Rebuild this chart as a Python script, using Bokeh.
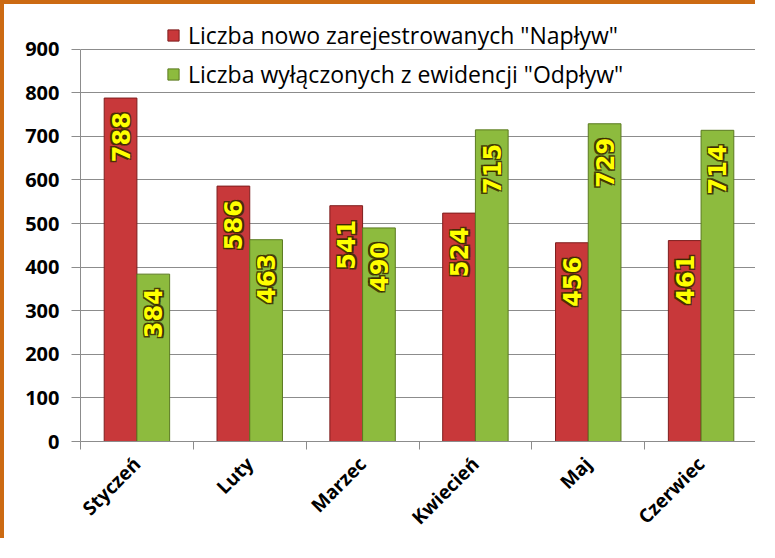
from bokeh.plotting import figure
from bokeh.models import Range1d, FixedTicker, ColumnDataSource
from bokeh.core.properties import value
from bokeh.embed import file_html
from bokeh.resources import INLINE
from math import pi

# ---- data ----
months = ["Styczeń", "Luty", "Marzec", "Kwiecień", "Maj", "Czerwiec"]
naplyw = [788, 586, 541, 524, 456, 461]
odplyw = [384, 463, 490, 715, 729, 714]
series_names = ['Liczba nowo zarejestrowanych "Napływ"',
                'Liczba wyłączonych z ewidencji "Odpływ"']
y_ticks = [0, 100, 200, 300, 400, 500, 600, 700, 800, 900]

BAR_W = 0.29
centers = [i + 0.5 for i in range(len(months))]

src_n = ColumnDataSource(dict(x=[c - BAR_W / 2 for c in centers], top=naplyw,
                              lbl=[str(v) for v in naplyw]))
src_o = ColumnDataSource(dict(x=[c + BAR_W / 2 for c in centers], top=odplyw,
                              lbl=[str(v) for v in odplyw]))

p = figure(width=755, height=538, output_backend="svg", toolbar_location=None,
           x_range=Range1d(0, len(months)), y_range=Range1d(0, 982),
           min_border_left=76, min_border_right=2, min_border_top=9,
           min_border_bottom=100)
p.styles = {"border-top": "4px solid #CC6A12", "border-left": "4px solid #CC6A12"}
p.outline_line_color = None
p.background_fill_color = "white"
p.border_fill_color = "white"

p.vbar(x="x", top="top", width=BAR_W, source=src_n, fill_color="#C8383A",
       line_color="#7E1E1E", line_width=1, legend_label=series_names[0])
p.vbar(x="x", top="top", width=BAR_W, source=src_o, fill_color="#8DBB3E",
       line_color="#5B7A20", line_width=1, legend_label=series_names[1])

# dark halo behind the yellow value labels
halo = [(-1.5, -1.5), (1.5, -1.5), (-1.5, 1.5), (1.5, 1.5)]
for src in (src_n, src_o):
    for dx, dy in halo:
        p.text(x="x", y="top", text="lbl", source=src, angle=pi / 2,
               text_align="right", text_baseline="middle",
               x_offset=dx, y_offset=14 + dy,
               text_font=value("DejaVu Sans"), text_font_style="bold",
               text_font_size="24px", text_color="#3A2A00", text_alpha=0.85)
    p.text(x="x", y="top", text="lbl", source=src, angle=pi / 2,
           text_align="right", text_baseline="middle", y_offset=14,
           text_font=value("DejaVu Sans"), text_font_style="bold",
           text_font_size="24px", text_color="#FFFF00")

# y axis
p.yaxis.ticker = FixedTicker(ticks=y_ticks)
p.yaxis.bounds = (y_ticks[0], y_ticks[-1])
p.yaxis.major_tick_out = 9
p.yaxis.major_tick_in = 0
p.yaxis.minor_tick_line_color = None
p.yaxis.axis_line_color = "#8C8C8C"
p.yaxis.major_tick_line_color = "#8C8C8C"
p.yaxis.major_label_standoff = 12
p.yaxis.major_label_text_font = "Open Sans"
p.yaxis.major_label_text_font_style = "bold"
p.yaxis.major_label_text_font_size = "20px"
p.yaxis.major_label_text_color = "black"

# x axis: labels at centres, ticks at category boundaries
p.xaxis.ticker = FixedTicker(ticks=centers, minor_ticks=list(range(len(months) + 1)))
p.xaxis.major_label_overrides = {c: m for c, m in zip(centers, months)}
p.xaxis.major_tick_line_color = None
p.xaxis.major_tick_out = 0
p.xaxis.major_tick_in = 0
p.xaxis.minor_tick_out = 8
p.xaxis.minor_tick_in = 0
p.xaxis.minor_tick_line_color = "#8C8C8C"
p.xaxis.axis_line_color = "#8C8C8C"
p.xaxis.major_label_orientation = pi / 4
p.xaxis.major_label_standoff = 11
p.xaxis.major_label_text_font = "Open Sans"
p.xaxis.major_label_text_font_style = "bold"
p.xaxis.major_label_text_font_size = "19px"
p.xaxis.major_label_text_color = "black"

p.xgrid.grid_line_color = None
p.ygrid.ticker = FixedTicker(ticks=y_ticks)
p.ygrid.grid_line_color = "#8C8C8C"

lg = p.legend[0]
lg.location = (86, 351)
lg.orientation = "vertical"
lg.background_fill_alpha = 0
lg.border_line_color = None
lg.padding = 0
lg.margin = 0
lg.glyph_width = 14
lg.glyph_height = 14
lg.label_height = 31
lg.spacing = 7
lg.label_standoff = 8
lg.label_text_font = "Open Sans"
lg.label_text_font_size = "23px"
lg.label_text_color = "black"

open("out.html", "w").write(file_html(p, INLINE))
